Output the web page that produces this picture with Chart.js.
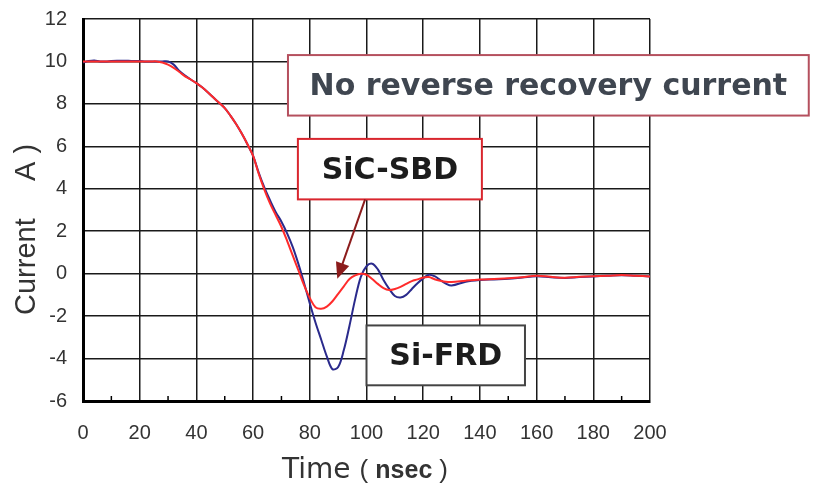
<!DOCTYPE html>
<html>
<head>
<meta charset="utf-8">
<script src="https://cdn.jsdelivr.net/npm/chart.js@4.4.1/dist/chart.umd.min.js"></script>
<style>
  html, body { margin: 0; padding: 0; background: #fff; }
  #wrap { width: 815px; height: 484px; }
</style>
</head>
<body>
<div id="wrap"><canvas id="myChart" width="815" height="484"></canvas></div>
<script>
// time axis (nsec)
var timeNs = [0,2,4,6,8,10,12,14,16,18,20,22,24,26,28,30,32,34,36,38,40,42,44,46,48,50,52,54,56,58,60,
  62,64,66,68,70,72,74,76,78,80,82,84,86,88,90,92,94,96,98,100,102,104,106,108,110,112,114,116,118,120,
  122,124,126,128,130,135,140,145,150,155,160,165,170,175,180,185,190,195,200];

// SiC-SBD current (A)
var sicSbd = [10,10,10,10,10,10,10,10,10,10,10,10,10,10,9.95,9.85,9.7,9.5,9.3,9.15,8.98,8.78,8.55,8.3,8.05,7.8,7.45,7.05,6.6,6.1,5.55,
  4.7,3.95,3.3,2.75,2.2,1.55,0.85,0.15,-0.55,-1.15,-1.58,-1.65,-1.55,-1.3,-0.95,-0.6,-0.25,-0.08,0.0,-0.05,-0.25,-0.48,-0.68,-0.77,-0.72,-0.62,-0.48,-0.35,-0.27,-0.18,
  -0.16,-0.26,-0.33,-0.38,-0.39,-0.33,-0.28,-0.25,-0.22,-0.17,-0.1,-0.15,-0.19,-0.15,-0.12,-0.1,-0.06,-0.1,-0.13];

// Si-FRD current (A)
var siFrd = [9.95,10.02,10.05,10,10,10.02,10.03,10.03,10.03,10.02,10.02,10,10,10,10,10,9.85,9.55,9.33,9.15,8.98,8.78,8.55,8.3,8.05,7.8,7.45,7.05,6.6,6.1,5.55,
  4.75,4.05,3.45,2.9,2.45,1.9,1.25,0.45,-0.45,-1.4,-2.3,-3.1,-3.9,-4.5,-4.4,-3.6,-2.45,-1.2,-0.15,0.35,0.47,0.2,-0.3,-0.72,-1.05,-1.12,-1.0,-0.72,-0.45,-0.22,
  -0.05,-0.12,-0.3,-0.47,-0.56,-0.38,-0.3,-0.27,-0.24,-0.18,-0.12,-0.17,-0.2,-0.16,-0.13,-0.1,-0.07,-0.1,-0.13];

var xTicks = [0,20,40,60,80,100,120,140,160,180,200];
var yTicks = [-6,-4,-2,0,2,4,6,8,10,12];

function toPoints(vals){
    var pts = [];
    for(let i = 0; i < timeNs.length; i++){
        pts.push({x: timeNs[i], y: vals[i]});
    }
    return pts;
}

// callout boxes, in data units
var boxes = [
    {text: 'No reverse recovery current', x0: 72.3, x1: 256, y0: 10.3, y1: 7.45, stroke: '#b5505e', color: '#3f4650'},
    {text: 'SiC-SBD', x0: 75.8, x1: 140.7, y0: 6.35, y1: 3.5, stroke: '#d9262e', color: '#1c1c1c'},
    {text: 'Si-FRD', x0: 100.0, x1: 155.9, y0: -2.44, y1: -5.26, stroke: '#444444', color: '#1c1c1c'}
];
var arrow = {x0: 99.5, y0: 3.5, x1: 89.7, y1: -0.24};

const annot = {
    id: 'annot',
    afterDatasetsDraw(chart){
        const ctx = chart.ctx;
        const x = chart.scales.x, y = chart.scales.y;
        ctx.save();
        // minor ticks on the time axis
        ctx.strokeStyle = '#000';
        ctx.lineWidth = 1.5;
        for(let t = 10; t < 200; t += 20){
            const px = x.getPixelForValue(t);
            ctx.beginPath();
            ctx.moveTo(px, chart.chartArea.bottom);
            ctx.lineTo(px, chart.chartArea.bottom - 5);
            ctx.stroke();
        }
        // boxes
        boxes.forEach(b => {
            const l = x.getPixelForValue(b.x0), r = x.getPixelForValue(b.x1);
            const t = y.getPixelForValue(b.y0), bt = y.getPixelForValue(b.y1);
            ctx.fillStyle = '#fff';
            ctx.fillRect(l, t, r - l, bt - t);
            ctx.strokeStyle = b.stroke;
            ctx.lineWidth = 2;
            ctx.strokeRect(l, t, r - l, bt - t);
            ctx.fillStyle = b.color;
            ctx.font = 'bold 30px "DejaVu Sans"';
            ctx.textAlign = 'center';
            ctx.textBaseline = 'middle';
            ctx.fillText(b.text, (l + r) / 2, (t + bt) / 2 + 2);
        });
        // arrow
        const ax0 = x.getPixelForValue(arrow.x0), ay0 = y.getPixelForValue(arrow.y0);
        const ax1 = x.getPixelForValue(arrow.x1), ay1 = y.getPixelForValue(arrow.y1);
        const ang = Math.atan2(ay1 - ay0, ax1 - ax0);
        ctx.strokeStyle = '#8c1c1c';
        ctx.fillStyle = '#8c1c1c';
        ctx.lineWidth = 2;
        ctx.beginPath();
        ctx.moveTo(ax0, ay0);
        ctx.lineTo(ax1 - 12 * Math.cos(ang), ay1 - 12 * Math.sin(ang));
        ctx.stroke();
        ctx.beginPath();
        ctx.moveTo(ax1, ay1);
        ctx.lineTo(ax1 - 16 * Math.cos(ang) + 7 * Math.sin(ang), ay1 - 16 * Math.sin(ang) - 7 * Math.cos(ang));
        ctx.lineTo(ax1 - 16 * Math.cos(ang) - 7 * Math.sin(ang), ay1 - 16 * Math.sin(ang) + 7 * Math.cos(ang));
        ctx.closePath();
        ctx.fill();
        ctx.restore();
    },
    afterDraw(chart){
        const ctx = chart.ctx;
        const ca = chart.chartArea;
        ctx.save();
        ctx.fillStyle = '#333';
        ctx.textBaseline = 'alphabetic';
        ctx.textAlign = 'left';
        // x title: Time ( nsec )
        let px = ca.left + 199;
        const by = 478;
        ctx.font = '28px "DejaVu Sans"';
        ctx.fillText('Time', px, by);
        px += ctx.measureText('Time ').width;
        ctx.font = '26px "Liberation Sans"';
        ctx.fillText('(', px, by);
        px += ctx.measureText('( ').width;
        ctx.font = 'bold 25px "Liberation Sans"';
        ctx.fillText('nsec', px, by);
        px += ctx.measureText('nsec ').width;
        ctx.font = '26px "Liberation Sans"';
        ctx.fillText(')', px, by);
        // y title: Current  A )
        ctx.translate(35, 315);
        ctx.rotate(-Math.PI / 2);
        ctx.font = '29px "Liberation Sans"';
        ctx.fillText('Current', 0, 0);
        ctx.fillText('A )', 134, 0);
        ctx.restore();
    }
};

const config = {
    type: 'line',
    data: {
        datasets: [{
            label: 'SiC-SBD',
            data: toPoints(sicSbd),
            borderColor: '#ff2b2b',
            borderWidth: 2,
            pointRadius: 0,
            tension: 0.35,
            fill: false
        }, {
            label: 'Si-FRD',
            data: toPoints(siFrd),
            borderColor: '#2a2a8c',
            borderWidth: 2,
            pointRadius: 0,
            tension: 0.35,
            fill: false
        }]
    },
    options: {
        responsive: false,
        animation: false,
        layout: { padding: { left: 0, right: 165, top: 19, bottom: 0 } },
        plugins: {
            legend: { display: false },
            tooltip: { enabled: false }
        },
        scales: {
            x: {
                type: 'linear',
                min: 0,
                max: 200,
                afterBuildTicks: (s) => { s.ticks = xTicks.map(v => ({value: v})); },
                afterFit: (s) => { s.height = 83; s.paddingLeft = 0; s.paddingRight = 0; },
                grid: { color: '#1a1a1a', lineWidth: 1.5, drawTicks: false },
                border: { color: '#000', width: 3 },
                ticks: { color: '#333', padding: 20, font: { family: 'Liberation Sans', size: 20 } }
            },
            y: {
                min: -6,
                max: 12,
                afterBuildTicks: (s) => { s.ticks = yTicks.map(v => ({value: v})); },
                afterFit: (s) => { s.width = 83; s.paddingTop = 0; s.paddingBottom = 0; },
                grid: { color: '#1a1a1a', lineWidth: 1.5, drawTicks: false },
                border: { color: '#000', width: 3 },
                ticks: { color: '#333', padding: 16, font: { family: 'Liberation Sans', size: 20 } }
            }
        }
    },
    plugins: [annot]
};

const myChart = new Chart(document.getElementById('myChart'), config);
</script>
</body>
</html>
